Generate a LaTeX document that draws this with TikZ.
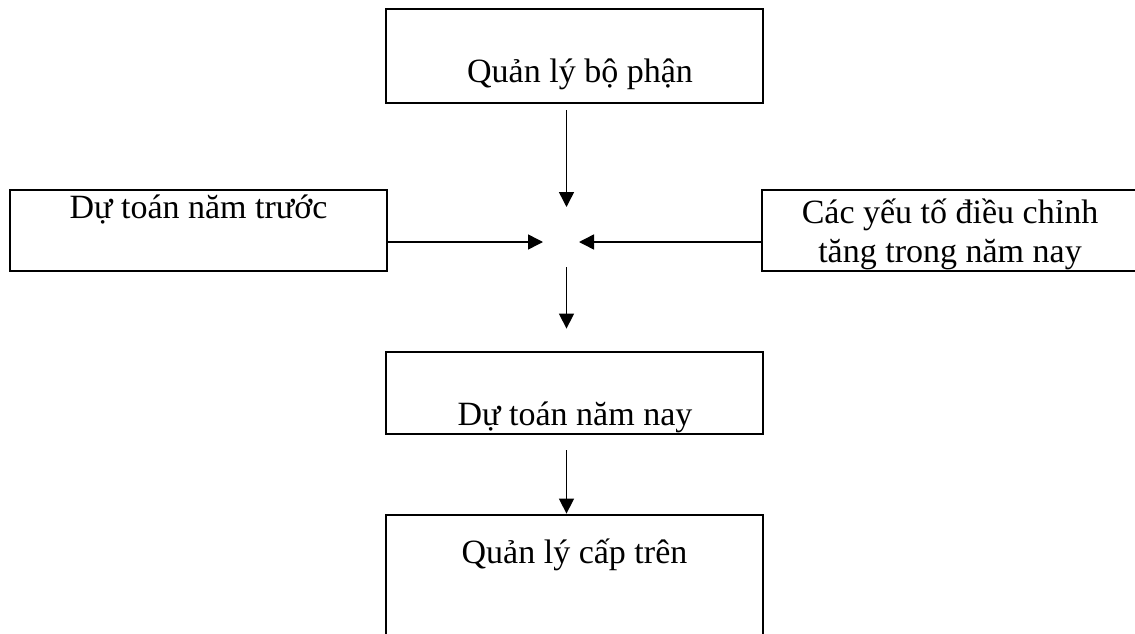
\documentclass[tikz,border=0pt]{standalone}
\usepackage{fontspec}
\setmainfont{Liberation Serif}
\usetikzlibrary{arrows.meta}
\begin{document}
\begin{tikzpicture}[x=1pt,y=-1pt,
  box/.style={draw,line width=2.8pt,inner sep=0pt,rectangle},
  lbl/.style={anchor=base,inner sep=0pt,font=\fontsize{34}{39}\selectfont},
  arr/.style={line width=1.5pt,-{Triangle[length=15pt,width=15pt]}}]
\useasboundingbox[fill=white] (0,0) rectangle (1135,634);
% boxes
\node[box,minimum width=377pt,minimum height=94pt] (top) at (574.5,56) {};
\node[box,minimum width=377pt,minimum height=81pt] (left) at (198.5,230.5) {};
\node[box,minimum width=376pt,minimum height=81pt] (right) at (950,230.5) {};
\node[box,minimum width=377pt,minimum height=82pt] (mid) at (574.5,393) {};
\node[box,minimum width=377pt,minimum height=130pt] (bot) at (574.5,580) {};
% texts
\node[lbl] (toptxt) at (580,82) {Quản lý bộ phận};
\node[lbl] (lefttxt) at (198.5,218) {Dự toán năm trước};
\node[lbl] (righttxt1) at (950,223) {Các yếu tố điều chỉnh};
\node[lbl] (righttxt2) at (950,262) {tăng trong năm nay};
\node[lbl] (midtxt) at (575,425) {Dự toán năm nay};
\node[lbl] (bottxt) at (574.5,563) {Quản lý cấp trên};
% junction
\coordinate (c) at (566.5,242);
% connectors
\draw[arr,shorten <=6pt,shorten >=35pt] (top.south -| c) -- (c);
\draw[arr,shorten >=23.5pt] (left.east |- c) -- (c);
\draw[arr,shorten >=12.5pt] (right.west |- c) -- (c);
\draw[arr,shorten <=25pt,shorten >=22pt] (c) -- (mid.north -| c);
\draw[arr,shorten <=15pt] (mid.south -| c) -- (bot.north -| c);
\end{tikzpicture}
\end{document}
